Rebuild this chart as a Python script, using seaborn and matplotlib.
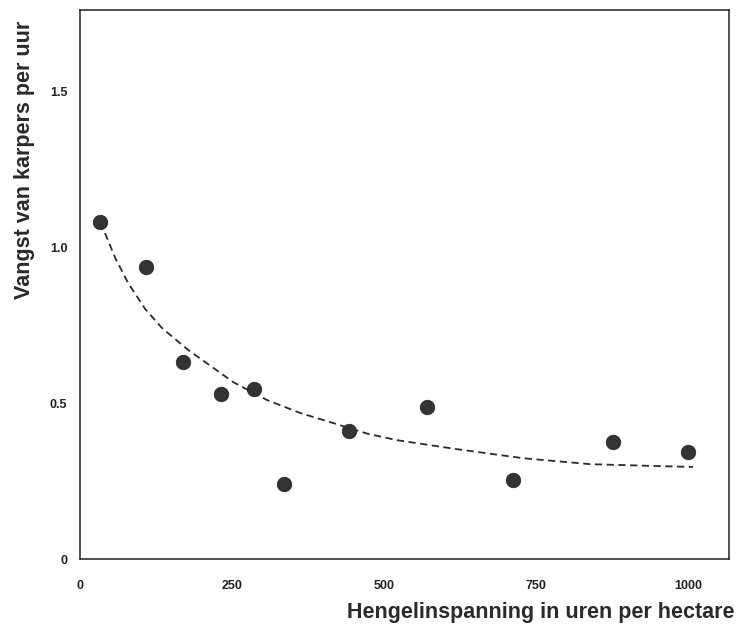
import matplotlib
matplotlib.use("Agg")
import matplotlib.pyplot as plt
import seaborn as sns
import pandas as pd

# Observed data points
effort = [33, 108, 169, 232, 286, 335, 442, 571, 712, 877, 1000]
catch = [1.08, 0.936, 0.631, 0.529, 0.545, 0.240, 0.410, 0.487, 0.253, 0.375, 0.343]

# Fitted curve
curve_x = [41, 58, 79, 107, 135, 178, 201, 252, 307, 362, 416, 472, 521, 620, 729, 839, 949, 1008]
curve_y = [1.045, 0.965, 0.885, 0.802, 0.740, 0.670, 0.638, 0.567, 0.510, 0.468, 0.436,
           0.402, 0.381, 0.352, 0.323, 0.304, 0.298, 0.295]

x_ticks = [0, 250, 500, 750, 1000]
x_ticklabels = ["0", "250", "500", "750", "1000"]
y_ticks = [0, 0.5, 1.0, 1.5]
y_ticklabels = ["0", "0.5", "1.0", "1.5"]

sns.set_theme(style="white")
plt.rcParams['font.family'] = ['Liberation Sans', 'DejaVu Sans']

pts = pd.DataFrame({"x": effort, "y": catch})
crv = pd.DataFrame({"x": curve_x, "y": curve_y})

fig = plt.figure(figsize=(7.37, 6.3), dpi=100)
ax = fig.add_axes([80/737, 1 - 559/630, (729-80)/737, (559-10)/630])

sns.lineplot(data=crv, x="x", y="y", ax=ax, color="#2a2a2a", lw=1.3,
             linestyle=(0, (4, 2.5)), sort=False)
sns.scatterplot(data=pts, x="x", y="y", ax=ax, s=110, color="#333333",
                edgecolor="#222222", linewidth=0.5, zorder=3)

ax.set_xlim(0, 1067)
ax.set_ylim(0, 1.76)
ax.set_xticks(x_ticks)
ax.set_xticklabels(x_ticklabels, fontsize=9, fontweight="bold", color="#222222")
ax.set_yticks(y_ticks)
ax.set_yticklabels(y_ticklabels, fontsize=9, fontweight="bold", color="#222222")
ax.tick_params(axis="x", direction="out", length=3, width=1, pad=12, color="#222222")
ax.tick_params(axis="y", direction="out", length=3, width=1, pad=6, color="#222222")

for s in ax.spines.values():
    s.set_visible(True)
    s.set_color("#222222")
    s.set_linewidth(1.1)

ax.set_xlabel("Hengelinspanning in uren per hectare", fontsize=15.5, fontweight="bold",
              color="#2a2a2a")
ax.xaxis.set_label_coords(1.009, -0.097)
ax.xaxis.label.set_ha("right")
ax.xaxis.label.set_va("center")

ax.set_ylabel("Vangst van karpers per uur", fontsize=15.5, fontweight="bold",
              color="#2a2a2a")
ax.yaxis.set_label_coords(-0.085, 0.727)
ax.yaxis.label.set_va("center")

fig.savefig("out.png", dpi=100, facecolor="white")
